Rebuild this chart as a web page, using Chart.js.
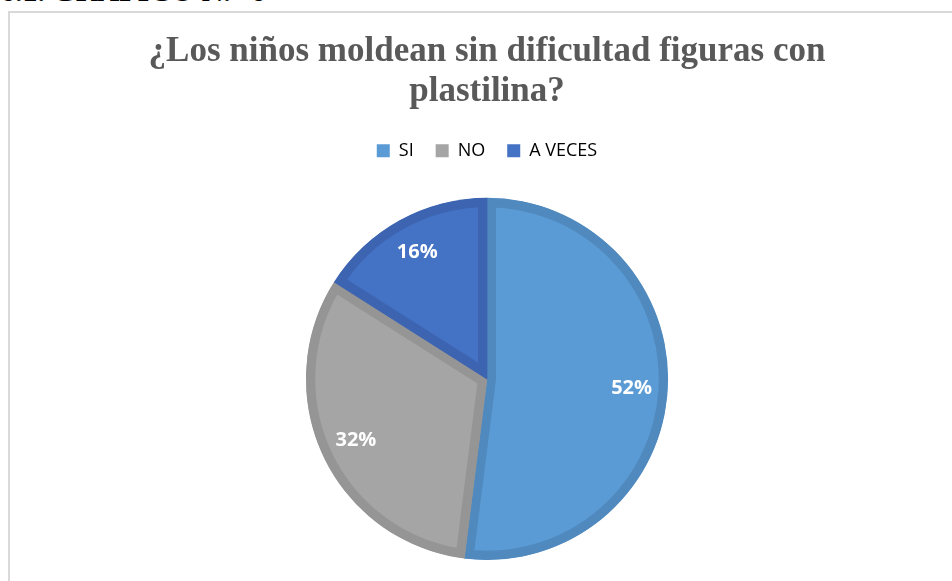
<!DOCTYPE html>
<html>
<head>
<meta charset="utf-8">
<script src="https://cdn.jsdelivr.net/npm/chart.js@4/dist/chart.umd.min.js"></script>
<style>
  html, body { margin: 0; padding: 0; background: #fff; overflow: hidden; }
  body { width: 952px; height: 581px; position: relative; }
  #heading {
    position: absolute; left: 0; top: -26px;
    font: bold 30px "Liberation Serif", serif; color: #000; white-space: nowrap;
  }
  #box {
    position: absolute; left: 8px; top: 11px;
    width: 958px; height: 590px;
    border: 2px solid #d9d9d9; box-sizing: border-box;
  }
  #box canvas { display: block; }
</style>
</head>
<body>
<div id="heading">6.1. GRÁFICO N.° 6</div>
<div id="box"><canvas id="pieChart" width="954" height="586"></canvas></div>
<script>
const titleLines = ["¿Los niños moldean sin dificultad figuras con", "plastilina?"];
const categories = ["SI", "NO", "A VECES"];
const percents = [52, 32, 16];
const fillColors = ["#5B9BD5", "#A5A5A5", "#4472C4"];
const edgeColors = ["#4F89BE", "#959595", "#3D64B0"];

// white % labels inside each slice
const sliceLabels = {
  id: "sliceLabels",
  afterDatasetsDraw(chart) {
    const ctx = chart.ctx;
    const meta = chart.getDatasetMeta(0);
    ctx.save();
    ctx.font = "bold 20px 'Open Sans', sans-serif";
    ctx.fillStyle = "#ffffff";
    ctx.textAlign = "center";
    ctx.textBaseline = "middle";
    meta.data.forEach((arc, i) => {
      const p = arc.getProps(["x", "y", "startAngle", "endAngle", "outerRadius"], true);
      const mid = (p.startAngle + p.endAngle) / 2;
      const r = p.outerRadius * 0.8;
      ctx.fillText(percents[i] + "%", p.x + Math.cos(mid) * r, p.y + Math.sin(mid) * r);
    });
    ctx.restore();
  }
};

// extra room between legend and pie
const legendGap = {
  id: "legendGap",
  beforeInit(chart) {
    const fit = chart.legend.fit;
    chart.legend.fit = function () {
      fit.call(this);
      this.height += 28;
    };
  }
};

window.onload = function () {
  const ctx = document.getElementById("pieChart").getContext("2d");
  new Chart(ctx, {
    type: "pie",
    data: {
      labels: categories,
      datasets: [{
        data: percents,
        backgroundColor: fillColors,
        borderColor: edgeColors,
        borderWidth: 9,
        borderAlign: "inner"
      }]
    },
    options: {
      responsive: false,
      animation: false,
      layout: { padding: { top: 0, bottom: 39 } },
      plugins: {
        title: {
          display: true,
          text: titleLines,
          color: "#595959",
          font: { family: "'Liberation Serif', serif", size: 35, weight: "bold", lineHeight: 1.14 },
          padding: { top: 19, bottom: 8 }
        },
        legend: {
          position: "top",
          labels: {
            color: "#595959",
            font: { family: "'Open Sans', sans-serif", size: 18 },
            boxWidth: 13,
            boxHeight: 13,
            padding: 22,
            generateLabels(chart) {
              return categories.map((c, i) => ({
                text: c,
                fillStyle: fillColors[i],
                strokeStyle: fillColors[i],
                lineWidth: 0,
                index: i
              }));
            }
          }
        },
        tooltip: { enabled: false }
      }
    },
    plugins: [sliceLabels, legendGap]
  });
};
</script>
</body>
</html>
